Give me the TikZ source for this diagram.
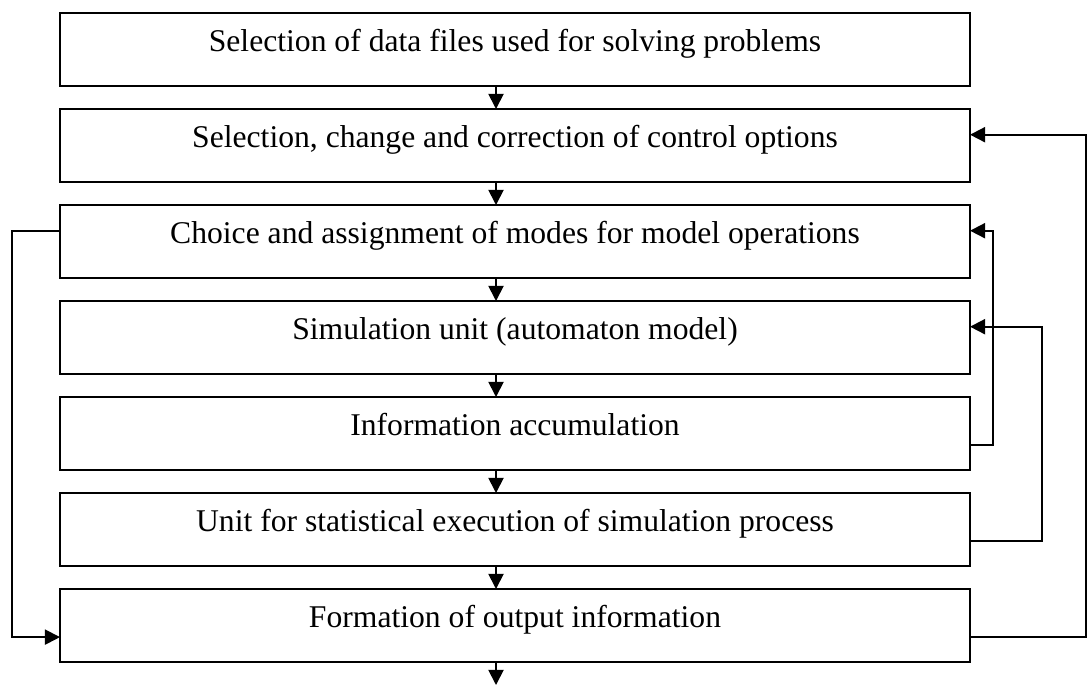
\documentclass[tikz,border=0pt]{standalone}
\usepackage{fontspec}
\setmainfont{Liberation Serif}
\usetikzlibrary{positioning,arrows.meta}

\begin{document}
\begin{tikzpicture}[
    blk/.style={draw,line width=1.6pt,minimum width=22.75cm,minimum height=1.825cm,inner sep=0pt,outer sep=0pt,
        text height=0.5cm,text depth=0.42cm,font=\fontsize{22.5}{27}\selectfont},
    arr/.style={line width=1.3pt,-{Triangle[length=0.38cm,width=0.38cm]}},
    node distance=0.575cm]
    \useasboundingbox (0,0) rectangle (27.2,-17.175);
    \node[blk] (files) at (12.875,-1.2375) {Selection of data files used for solving problems};
    \node[blk,below=of files] (ctl) {Selection, change and correction of control options};
    \node[blk,below=of ctl] (modes) {Choice and assignment of modes for model operations};
    \node[blk,below=of modes] (sim) {Simulation unit (automaton model)};
    \node[blk,below=of sim] (accum) {Information accumulation};
    \node[blk,below=of accum] (stat) {Unit for statistical execution of simulation process};
    \node[blk,below=of stat] (out) {Formation of output information};
    \coordinate (exit) at ([xshift=-0.475cm,yshift=-0.575cm]out.south);
    % main chain
    \draw[arr]([xshift=-0.475cm]files.south)--([xshift=-0.475cm]ctl.north);
    \draw[arr]([xshift=-0.475cm]ctl.south)--([xshift=-0.475cm]modes.north);
    \draw[arr]([xshift=-0.475cm]modes.south)--([xshift=-0.475cm]sim.north);
    \draw[arr]([xshift=-0.475cm]sim.south)--([xshift=-0.475cm]accum.north);
    \draw[arr]([xshift=-0.475cm]accum.south)--([xshift=-0.475cm]stat.north);
    \draw[arr]([xshift=-0.475cm]stat.south)--([xshift=-0.475cm]out.north);
    \draw[arr]([xshift=-0.475cm]out.south)--(exit);
    % feedback loops
    \draw[arr]([yshift=0.27cm]modes.west)--++(-1.2,0)|-([yshift=-0.29cm]out.west);
    \draw[arr]([yshift=-0.29cm]accum.east)--++(0.575,0)|-([yshift=0.27cm]modes.east);
    \draw[arr]([yshift=-0.29cm]stat.east)--++(1.8,0)|-([yshift=0.27cm]sim.east);
    \draw[arr]([yshift=-0.29cm]out.east)--++(2.9,0)|-([yshift=0.27cm]ctl.east);
\end{tikzpicture}
\end{document}
